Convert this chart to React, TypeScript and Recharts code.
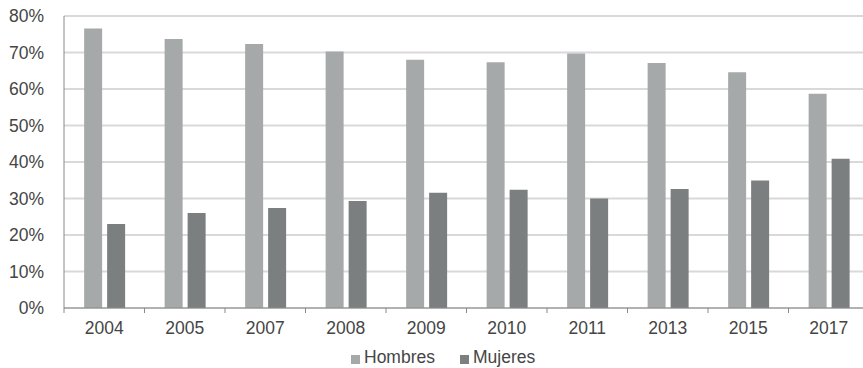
import React from 'react';
import { BarChart, Bar, XAxis, YAxis, CartesianGrid, Legend } from 'recharts';

const years = ['2004', '2005', '2007', '2008', '2009', '2010', '2011', '2013', '2015', '2017'];
const hombres = [76.6, 73.7, 72.3, 70.3, 68.0, 67.3, 69.7, 67.1, 64.6, 58.7];
const mujeres = [23.0, 26.0, 27.4, 29.3, 31.6, 32.4, 30.0, 32.6, 34.9, 40.9];
const yTicks = [0, 10, 20, 30, 40, 50, 60, 70, 80];

const data = years.map((year, i) => ({ year, Hombres: hombres[i], Mujeres: mujeres[i] }));

const CHART_W = 872;
const CHART_H = 368;
const MARGIN = { top: 16, right: 3, left: 0, bottom: 30 };
const Y_AXIS_W = 64;
const X_AXIS_H = 30;
const PLOT_BOTTOM = CHART_H - MARGIN.bottom - X_AXIS_H;
const BAND = (CHART_W - MARGIN.right - Y_AXIS_W) / years.length;

const TEXT = '#454545';
const AXIS = '#8a8a8a';
const FONT = '"Liberation Sans", Arial, sans-serif';
const FONT_SIZE = 17.5;
const COLORS = { Hombres: '#a6a9aa', Mujeres: '#7b7f80' };

// category label in the middle, tick marks on the category boundaries
const YearTick = (props: any) => {
  const { x, payload, index } = props;
  const left = x - BAND / 2;
  return (
    <g>
      <line x1={left} x2={left} y1={PLOT_BOTTOM} y2={PLOT_BOTTOM + 5} stroke={AXIS} />
      {index === years.length - 1 && (
        <line x1={left + BAND} x2={left + BAND} y1={PLOT_BOTTOM} y2={PLOT_BOTTOM + 5} stroke={AXIS} />
      )}
      <text x={x} y={PLOT_BOTTOM + 26} textAnchor="middle" fill={TEXT} fontSize={FONT_SIZE} fontFamily={FONT}>
        {payload.value}
      </text>
    </g>
  );
};

const LegendContent = () => (
  <div style={{ display: 'flex', alignItems: 'center', fontFamily: FONT, fontSize: FONT_SIZE, color: TEXT }}>
    {(['Hombres', 'Mujeres'] as const).map((name) => (
      <div key={name} style={{ display: 'flex', alignItems: 'center', marginRight: 25 }}>
        <span style={{ width: 9, height: 9, background: COLORS[name], marginRight: 4, marginTop: 3 }} />
        <span>{name}</span>
      </div>
    ))}
  </div>
);

export default function App() {
  return (
    <div style={{ position: 'absolute', top: 0, left: 0, width: 863, height: 368, overflow: 'hidden', background: '#fff' }}>
      <BarChart width={CHART_W} height={CHART_H} data={data} margin={MARGIN} barCategoryGap="25%" barGap={5}>
        <CartesianGrid vertical={false} stroke="#d9d9d9" strokeWidth={2} />
        <XAxis
          dataKey="year"
          height={X_AXIS_H}
          stroke={AXIS}
          tickLine={false}
          tick={<YearTick />}
          interval={0}
        />
        <YAxis
          width={Y_AXIS_W}
          domain={[0, 80]}
          ticks={yTicks}
          tickFormatter={(v: number) => `${v}%`}
          stroke={AXIS}
          tickLine={false}
          tickMargin={14}
          tick={{ fill: TEXT, fontSize: FONT_SIZE, fontFamily: FONT }}
        />
        <Legend
          layout="horizontal"
          verticalAlign="middle"
          content={<LegendContent />}
          wrapperStyle={{ top: 347, left: 351, width: 'auto' }}
        />
        <Bar dataKey="Hombres" fill={COLORS.Hombres} isAnimationActive={false} />
        <Bar dataKey="Mujeres" fill={COLORS.Mujeres} isAnimationActive={false} />
      </BarChart>
    </div>
  );
}
